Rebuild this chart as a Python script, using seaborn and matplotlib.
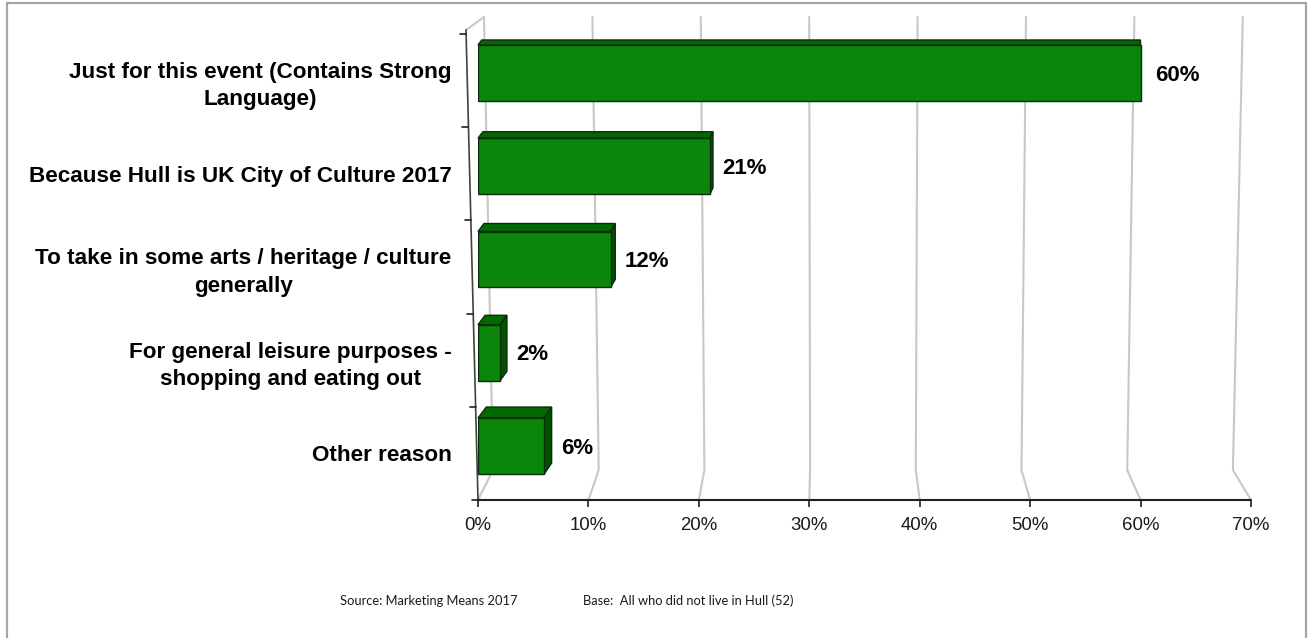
import numpy as np
import pandas as pd
import seaborn as sns
import matplotlib.pyplot as plt
from matplotlib.patches import Polygon
from matplotlib.lines import Line2D

# ---- data -------------------------------------------------------------
categories = [
    "Just for this event (Contains Strong\nLanguage)",
    "Because Hull is UK City of Culture 2017",
    "To take in some arts / heritage / culture\ngenerally",
    "For general leisure purposes -\nshopping and eating out",
    "Other reason",
]
shares = [60, 21, 12, 2, 6]
x_ticks = [0, 10, 20, 30, 40, 50, 60, 70]
x_tick_labels = [f"{t}%" for t in x_ticks]
value_labels = [f"{v}%" for v in shares]
source_note = "Source: Marketing Means 2017"
base_note = "Base:  All who did not live in Hull (52)"

# ---- styling ----------------------------------------------------------
FRONT = "#0a870a"
TOP = "#006a00"
SIDE = "#005400"
EDGE = "#0d2a0d"
GRID = "#c8c8c8"

W, H, DPI = 1308, 638, 100
sns.set_theme(style="white")
plt.rcParams["font.family"] = ["Liberation Sans", "DejaVu Sans"]

fig = plt.figure(figsize=(W / DPI, H / DPI), dpi=DPI)
fig.patch.set_facecolor("white")

# outer frame (top, left, right edges)
for xs, ys in [((7, 1306), (3, 3)), ((7, 7), (3, 640)), ((1306, 1306), (3, 640))]:
    fig.add_artist(Line2D([x / W for x in xs], [1 - y / H for y in ys],
                          transform=fig.transFigure, color="#a6a6a6", lw=1.6))

# plot area in pixel units (left, right, top, bottom)
L, R, T, B = 478, 1251, 17, 500
ax = fig.add_axes([L / W, 1 - B / H, (R - L) / W, (B - T) / H])
ax.set_facecolor("none")

df = pd.DataFrame({"reason": categories, "share": shares})
sns.barplot(data=df, x="share", y="reason", orient="h", color=FRONT,
            saturation=1, width=0.6, edgecolor=EDGE, linewidth=1.0,
            ax=ax, zorder=4)

ax.set_xlim(0, 70)
ax.set_ylim(4.579, -0.6)
for s in ax.spines.values():
    s.set_visible(False)


def px(x_img, y_img):
    """Image-pixel position (origin top-left) -> data coordinates."""
    return ax.transData.inverted().transform((x_img, H - y_img))


def to_img(xd, yd):
    xd_, yd_ = ax.transData.transform((xd, yd))
    return xd_, H - yd_


# ---- perspective back wall gridlines --------------------------------
for v in x_ticks:
    top = (484 + 10.84 * v, T)
    bend = (493 + 10.57 * v, 470)
    front = (to_img(v, 0)[0], B)
    pts = np.array([px(*top), px(*bend), px(*front)])
    ax.add_line(Line2D(pts[:, 0], pts[:, 1], color=GRID, lw=1.5,
                       zorder=1, clip_on=False))

# side wall: top edge and front edge with category ticks
pts = np.array([px(466, 30), px(484, T)])
ax.add_line(Line2D(pts[:, 0], pts[:, 1], color=GRID, lw=1.5, zorder=1, clip_on=False))
pts = np.array([px(466, 30), px(478, B)])
ax.add_line(Line2D(pts[:, 0], pts[:, 1], color="#404040", lw=1.2, zorder=2, clip_on=False))
for k in range(len(categories) + 1):
    yb = k - 0.5 + 0.08
    _, y_img = to_img(0, yb)
    x_wall = 466 + (478 - 466) * (y_img - 30) / (B - 30)
    pts = np.array([px(x_wall - 6, y_img), px(x_wall, y_img)])
    ax.add_line(Line2D(pts[:, 0], pts[:, 1], color="#202020", lw=1.2, zorder=2, clip_on=False))

# floor front edge (x axis)
pts = np.array([px(L, B), px(R, B)])
ax.add_line(Line2D(pts[:, 0], pts[:, 1], color="#202020", lw=1.5, zorder=2, clip_on=False))

# ---- 3-D faces for every bar ----------------------------------------
side_offsets = []
for patch in ax.patches[:len(shares)]:
    x0, y0 = patch.get_x(), patch.get_y()
    w, h = patch.get_width(), patch.get_height()
    xl, yt = to_img(x0, y0)          # top-left (image coords)
    xr, yb = to_img(x0 + w, y0 + h)  # bottom-right
    dy = 5 + (yt - 45) * 0.016
    dxl = dy * 0.75 * (1 - (xl - L) / 640)
    dxr = dy * 0.75 * (1 - (xr - L) / 640)
    top_face = [px(xl, yt), px(xr, yt), px(xr + dxr, yt - dy), px(xl + dxl, yt - dy)]
    ax.add_patch(Polygon(top_face, closed=True, facecolor=TOP, edgecolor=EDGE,
                         lw=1.0, zorder=3.5, clip_on=False))
    if dxr > 0.5:
        side_face = [px(xr, yt), px(xr + dxr, yt - dy), px(xr + dxr, yb - dy), px(xr, yb)]
        ax.add_patch(Polygon(side_face, closed=True, facecolor=SIDE, edgecolor=EDGE,
                             lw=1.0, zorder=3.5, clip_on=False))
    side_offsets.append(max(dxr, 0))

# value labels
for i, (v, lab) in enumerate(zip(shares, value_labels)):
    gap = 15 if v > 40 else 9
    ax.annotate(lab, xy=(v, i), xytext=((side_offsets[i] + gap) / 1.389, -1.5),
                textcoords="offset points", ha="left", va="center",
                fontsize=16, fontweight="bold", color="black", zorder=6,
                annotation_clip=False)

# ---- axes labels ----------------------------------------------------
ax.set_xticks(x_ticks)
ax.set_xticklabels(x_tick_labels, fontsize=13.4, color="#1a1a1a")
ax.tick_params(axis="x", bottom=True, length=5, width=1.2, color="#202020",
               pad=7, direction="out")
ax.set_yticks([i + 0.08 for i in range(len(categories))])
ax.set_yticklabels(categories, fontsize=16.2, fontweight="bold", color="black")
for t in ax.get_yticklabels():
    t.set_multialignment("center")
    t.set_linespacing(1.38)
ax.tick_params(axis="y", left=False, length=0, pad=19)
ax.set_xlabel("")
ax.set_ylabel("")
ax.grid(False)

# ---- footnotes -------------------------------------------------------
fig.text(340 / W, 1 - 601 / H, source_note, fontsize=9.3, family=["Lato", "DejaVu Sans"],
         ha="left", va="center", color="#1a1a1a")
fig.text(583 / W, 1 - 601 / H, base_note, fontsize=9.3, family=["Lato", "DejaVu Sans"],
         ha="left", va="center", color="#1a1a1a")

fig.savefig("out.png", dpi=DPI, facecolor="white")
